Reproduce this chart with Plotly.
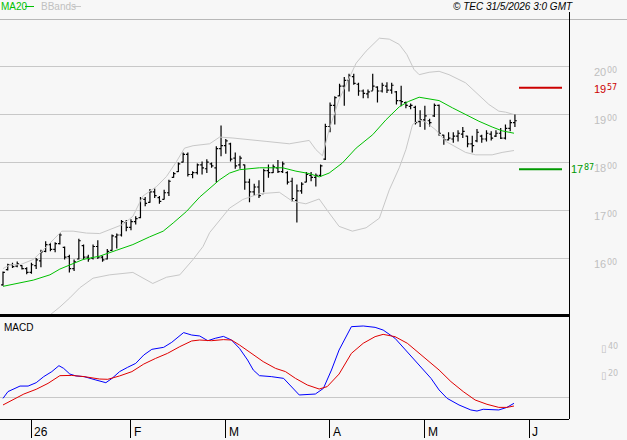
import plotly.graph_objects as go

# ---------------- data ----------------
bar_idx = list(range(109))
high = [1574,1590,1592,1595,1587,1583,1592,1602,1619,1637,1633,1635,1654,1626,1609,1599,1642,1630,1609,1630,
        1639,1607,1621,1651,1653,1681,1681,1683,1689,1729,1729,1746,1747,1731,1744,1765,1781,1801,1822,1822,
        1783,1799,1803,1808,1801,1835,1878,1850,1842,1822,1815,1797,1767,1757,1764,1788,1797,1797,1806,1803,
        1783,1769,1755,1760,1781,1781,1778,1797,1882,1926,1939,1965,1979,1986,1986,1967,1953,1953,1986,1960,
        1967,1968,1967,1950,1961,1928,1924,1919,1910,1919,1892,1924,1922,1859,1864,1864,1868,1875,1857,1857,
        1871,1859,1868,1866,1868,1873,1880,1890,1901]
low = [1544,1576,1581,1583,1578,1568,1569,1579,1583,1614,1616,1614,1630,1599,1572,1575,1599,1599,1594,1599,
       1600,1594,1599,1617,1622,1647,1658,1660,1672,1685,1710,1717,1727,1715,1724,1731,1769,1781,1801,1772,
       1768,1776,1776,1779,1790,1760,1814,1819,1803,1788,1788,1744,1718,1731,1727,1739,1769,1779,1779,1779,
       1755,1720,1676,1736,1760,1762,1751,1771,1806,1864,1880,1939,1919,1949,1963,1940,1935,1935,1951,1926,
       1947,1946,1944,1922,1918,1914,1912,1880,1875,1869,1876,1896,1857,1838,1847,1842,1845,1852,1833,1822,
       1843,1842,1845,1847,1854,1850,1849,1866,1875]
open_ = [1546,1578,1588,1585,1586,1580,1572,1586,1596,1616,1630,1620,1632,1624,1605,1580,1600,1628,1604,1602,
         1626,1604,1600,1618,1646,1650,1676,1666,1678,1686,1724,1718,1740,1728,1724,1738,1770,1782,1802,1818,
         1776,1780,1796,1788,1798,1790,1830,1836,1840,1810,1796,1796,1760,1740,1750,1736,1784,1780,1790,1782,
         1780,1762,1722,1742,1760,1774,1770,1774,1808,1876,1920,1940,1960,1972,1980,1964,1950,1944,1950,1958,
         1950,1960,1952,1948,1930,1926,1918,1916,1886,1890,1888,1898,1920,1858,1848,1850,1856,1860,1856,1840,
         1846,1856,1850,1860,1856,1862,1852,1872,1884]
close = [1572,1588,1584,1590,1580,1572,1588,1598,1615,1630,1620,1632,1650,1604,1580,1594,1638,1604,1600,1626,
         1604,1598,1616,1648,1650,1678,1666,1678,1684,1726,1716,1740,1732,1720,1738,1762,1778,1798,1818,1776,
         1780,1796,1790,1802,1794,1830,1836,1846,1808,1794,1810,1760,1740,1750,1732,1784,1780,1792,1782,1798,
         1760,1726,1742,1756,1776,1770,1774,1794,1876,1920,1936,1960,1972,1982,1966,1950,1945,1948,1960,1950,
         1962,1952,1962,1930,1928,1920,1920,1884,1890,1898,1884,1920,1862,1848,1852,1856,1862,1866,1840,1836,
         1864,1850,1862,1852,1862,1852,1872,1884,1888]

ma20_idx = [0,2.9,6.4,9.9,12.0,16.9,20.4,23.9,27.4,30.9,33.8,35.9,38.7,41.5,43.6,45.7,47.8,49.9,54.1,59.0,
            61.8,64.6,66.7,68.8,71.6,74.5,78.0,80.8,83.6,85.5,87.8,90.6,92.0,94.8,97.6,100.4,103.2,105.3,107.8]
ma20_val = [1543,1549,1556,1567,1579,1599,1606,1618,1630,1646,1658,1675,1699,1729,1746,1765,1779,1786,1790,1790,
            1783,1778,1771,1779,1800,1831,1859,1890,1917,1928,1937,1933,1930,1915,1901,1887,1875,1867,1862]

bb_up_idx = [0,1.5,3.6,6.4,8.5,10.6,12.4,14.8,17.6,20.4,22.5,25.3,27.4,29.5,32.4,34.5,36.6,38.3,40.1,43.6,
             45.7,48.5,55.5,60.4,64.6,66.0,67.4,68.8,70.9,74.5,76.6,79.4,81.5,83.6,85.2,86.7,87.8,89.9,92.0,94.1,
             97.6,100.4,102.5,104.6,106.0,107.8]
bb_up_val = [1580,1588,1588,1599,1619,1640,1658,1658,1654,1653,1661,1672,1689,1731,1751,1772,1803,1831,1836,1840,
             1854,1852,1845,1840,1847,1828,1815,1869,1932,2008,2033,2060,2058,2047,2026,1995,1984,1989,1991,1984,
             1967,1942,1922,1908,1906,1901]

bb_lo_idx = [9,12,14.1,16.2,19.0,22.5,27.4,29.5,31.6,34.5,37.3,40.1,42.2,43.6,47.8,50.6,54.1,58.3,61.1,63.9,
             66.7,68.8,70.9,73.7,76.6,79.4,81.5,83.6,85.0,86.4,87.8,89.2,91.3,93.4,95.5,97.6,99.7,103.2,105.3,107.8]
bb_lo_val = [1476,1500,1519,1540,1560,1567,1572,1560,1549,1562,1567,1599,1626,1655,1706,1724,1736,1739,1720,1715,
             1725,1696,1668,1658,1665,1685,1744,1790,1828,1880,1890,1885,1869,1845,1833,1822,1817,1817,1822,1826]

macd_idx = [0,1.05,3.6,5.3,7.0,8.6,10.3,11.8,12.8,14.1,15.4,17.1,19.6,21.7,23.0,24.6,26.3,28.0,29.7,31.4,
            33.9,35.6,38.1,39.8,41.5,43.2,44.8,46.5,48.2,49.9,51.6,52.8,54.1,56.6,59.2,60.8,62.5,65.9,67.6,69.3,
            70.9,73.5,76.0,78.5,80.2,82.7,85.3,87.8,90.3,92.0,93.7,96.2,98.7,100.0,101.3,104.6,106.3,107.8]
macd_val = [-0.010,0.040,0.081,0.081,0.106,0.151,0.188,0.232,0.212,0.170,0.156,0.151,0.126,0.106,0.138,0.188,
            0.220,0.249,0.311,0.353,0.368,0.405,0.477,0.459,0.452,0.417,0.435,0.449,0.422,0.360,0.274,0.200,
            0.158,0.151,0.138,0.077,0.015,0.022,0.064,0.200,0.348,0.521,0.526,0.516,0.496,0.435,0.336,0.237,
            0.138,0.052,-0.010,-0.059,-0.096,-0.104,-0.091,-0.096,-0.077,-0.047]

sig_idx = [0,1.9,4.4,7.0,9.5,12.0,14.5,17.1,20.4,22.1,24.6,27.2,29.7,32.2,34.7,37.3,39.8,41.5,44.0,46.5,
           48.2,49.9,52.4,54.9,57.5,59.6,61.7,64.2,66.7,68.4,70.9,73.5,76.0,78.5,80.2,82.7,85.3,88.6,92.0,94.5,
           97.1,99.6,102.1,104.6,106.3,107.8]
sig_val = [-0.059,-0.022,0.022,0.057,0.101,0.158,0.160,0.151,0.133,0.131,0.156,0.188,0.244,0.286,0.323,0.373,
           0.415,0.422,0.417,0.425,0.422,0.385,0.323,0.262,0.212,0.188,0.138,0.089,0.059,0.077,0.170,0.323,
           0.398,0.447,0.464,0.447,0.398,0.299,0.200,0.114,0.040,-0.022,-0.054,-0.077,-0.077,-0.067]

price_grid = [1600, 1700, 1800, 1900, 2000]
macd_labels = [0.20, 0.40]
month_pos = [5.95, 26.95, 46.95, 68.95, 88.95, 111.0]
month_lbl = ["26", "F", "M", "A", "M", "J"]
level_hi, level_lo = 1957, 1787

# ---------------- layout helpers ----------------
W, H = 627, 440
BG = "#f7f7f7"
FONT = "Liberation Sans"
SMALL_FONT = "DejaVu Sans"
def px_x(p): return p / W
def px_y(p): return 1 - p / H
XR = 569.0  # right edge of plot (px)

fig = go.Figure()
fig.add_trace(go.Ohlc(x=bar_idx, open=open_, high=high, low=low, close=close,
                      increasing=dict(line=dict(color="black", width=1.2)),
                      decreasing=dict(line=dict(color="black", width=1.2)),
                      tickwidth=0.4, hoverinfo="skip", xaxis="x", yaxis="y"))
fig.add_trace(go.Scatter(x=bb_up_idx, y=bb_up_val, mode="lines", line=dict(color="#c8c8c8", width=1),
                         xaxis="x", yaxis="y", hoverinfo="skip"))
fig.add_trace(go.Scatter(x=bb_lo_idx, y=bb_lo_val, mode="lines", line=dict(color="#c8c8c8", width=1),
                         xaxis="x", yaxis="y", hoverinfo="skip"))
fig.add_trace(go.Scatter(x=ma20_idx, y=ma20_val, mode="lines", line=dict(color="#00c000", width=1),
                         xaxis="x", yaxis="y", hoverinfo="skip"))
fig.add_trace(go.Scatter(x=macd_idx, y=macd_val, mode="lines", line=dict(color="#0000ff", width=1),
                         xaxis="x", yaxis="y2", hoverinfo="skip"))
fig.add_trace(go.Scatter(x=sig_idx, y=sig_val, mode="lines", line=dict(color="#e00000", width=1),
                         xaxis="x", yaxis="y2", hoverinfo="skip"))

xspan = 4.74
fig.update_layout(
    width=W, height=H, margin=dict(l=0, r=0, t=0, b=0),
    paper_bgcolor=BG, plot_bgcolor=BG, showlegend=False,
    font=dict(family=FONT, size=11, color="black"),
    xaxis=dict(domain=[0, px_x(XR)], range=[-3 / xspan, (XR - 3) / xspan], anchor="y2",
               showgrid=False, zeroline=False, showticklabels=False,
               tickvals=month_pos, ticks="outside", ticklen=18, tickcolor="black", tickwidth=1,
               showline=True, linecolor="black", linewidth=1,
               rangeslider=dict(visible=False), fixedrange=True),
    yaxis=dict(domain=[px_y(315), px_y(20)], range=[1483.3, 2097.9], anchor="x",
               tickvals=price_grid, showgrid=True, gridcolor="#c8c8c8", gridwidth=1,
               showticklabels=False, zeroline=False, ticks="", fixedrange=True),
    yaxis2=dict(domain=[px_y(419), px_y(316)], range=[-0.163, 0.6], anchor="x",
                tickvals=[0], showgrid=True, gridcolor="#c8c8c8", gridwidth=1,
                showticklabels=False, zeroline=False, ticks="", fixedrange=True),
)

shapes = [
    dict(type="line", xref="paper", yref="paper", x0=0, x1=1, y0=px_y(19.5), y1=px_y(19.5),
         line=dict(color="#b8b8b8", width=1)),
    dict(type="line", xref="paper", yref="paper", x0=px_x(XR + 0.5), x1=px_x(XR + 0.5),
         y0=px_y(12), y1=px_y(419), line=dict(color="black", width=1)),
    dict(type="line", xref="paper", yref="paper", x0=0, x1=px_x(XR + 1), y0=px_y(315.5), y1=px_y(315.5),
         line=dict(color="black", width=3)),
    dict(type="line", xref="paper", yref="y", x0=px_x(519), x1=px_x(562), y0=level_hi, y1=level_hi,
         line=dict(color="#cc0000", width=2)),
    dict(type="line", xref="paper", yref="y", x0=px_x(519), x1=px_x(562), y0=level_lo, y1=level_lo,
         line=dict(color="#009900", width=2)),
    dict(type="line", xref="paper", yref="paper", x0=px_x(25), x1=px_x(34), y0=px_y(6.5), y1=px_y(6.5),
         line=dict(color="#00c000", width=1)),
    dict(type="line", xref="paper", yref="paper", x0=px_x(73), x1=px_x(81), y0=px_y(6.5), y1=px_y(6.5),
         line=dict(color="#c8c8c8", width=1)),
]
fig.update_layout(shapes=shapes)

ann = []
def add_text(text, x, y, color="black", size=11, xanchor="left", xref="paper", yref="paper",
             yshift=0, xshift=0, family=FONT):
    ann.append(dict(text=text, x=x, y=y, xref=xref, yref=yref, xanchor=xanchor, yanchor="middle",
                    showarrow=False, font=dict(family=family, size=size, color=color),
                    yshift=yshift, xshift=xshift))

def add_split(big, small, x_px, yval, yref, color, yshift, big_w=13):
    # big leading digits + smaller raised trailing digits
    add_text(big, px_x(x_px), yval, color=color, size=11, yref=yref, yshift=yshift)
    add_text(small, px_x(x_px + big_w), yval, color=color, size=8, yref=yref,
             yshift=yshift + 1.5, family=SMALL_FONT)

add_text("MA20", px_x(-1), px_y(6.5), color="#00c000", size=10)
add_text("BBands", px_x(39), px_y(6.5), color="#c0c0c0", size=10)
add_text("<i>© TEC 31/5/2026 3:0 GMT</i>", px_x(575), px_y(6.5), size=10, xanchor="right")
for v in price_grid:
    s = str(v)
    add_split(s[:2], s[2:], 592, v, "y", "#c0c0c0", -5)
add_split(str(level_hi)[:2], str(level_hi)[2:], 592, level_hi, "y", "#cc0000", -1.5)
add_split(str(level_lo)[:2], str(level_lo)[2:], 569, level_lo, "y", "#009900", 0)
for v in macd_labels:
    add_text("▯", px_x(599), v, color="#c0c0c0", size=10, yref="y2", yshift=-5, family=SMALL_FONT)
    add_text(f"{v:.2f}"[2:], px_x(606), v, color="#c0c0c0", size=8, yref="y2", yshift=-3.5,
             family=SMALL_FONT)
add_text("MACD", px_x(2), px_y(327), size=10)
for p, lbl in zip(month_pos, month_lbl):
    add_text(lbl, p, px_y(432), xref="x", size=12, xshift=1)
fig.update_layout(annotations=ann)

fig.write_html("out.html")
